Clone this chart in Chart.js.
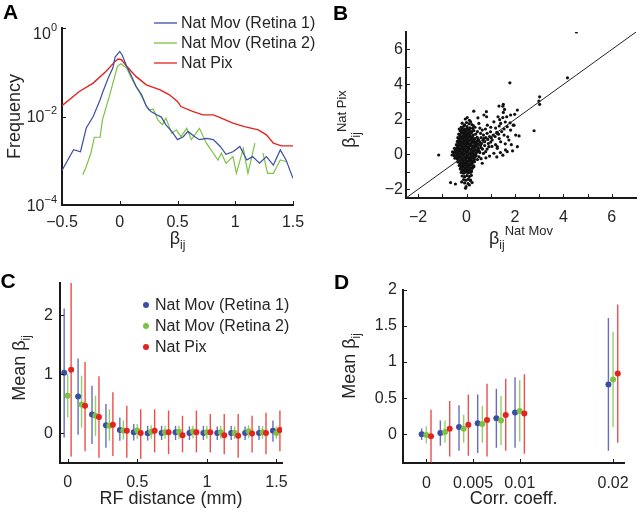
<!doctype html>
<html lang="en">
<head>
  <meta charset="utf-8">
  <title>Coupling coefficients: natural movie vs natural pixel</title>
  <style>
    * { margin: 0; padding: 0; }
    body { background: #fff; }
    .figure { position: relative; width: 640px; height: 513px; }
    .figure canvas { position: absolute; left: 0; top: 0; }
  </style>
</head>
<body>
  <div class="figure">
    <canvas id="panelA" width="640" height="513"></canvas>
    <canvas id="panelB" width="640" height="513"></canvas>
    <canvas id="panelC" width="640" height="513"></canvas>
    <canvas id="panelD" width="640" height="513"></canvas>
  </div>
  <script src="https://cdn.jsdelivr.net/npm/chart.js/dist/chart.umd.min.js"></script>
  <script>
    // ---- panel A: distribution of beta_ij (log frequency)
    const betaBlueA = [-0.5, -0.4, -0.34, -0.29, -0.23, -0.17, -0.15, -0.1, -0.06, -0.04, 0, 0.02, 0.06, 0.1, 0.14, 0.19, 0.23, 0.27, 0.32, 0.36, 0.4, 0.45, 0.5, 0.55, 0.59, 0.65, 0.69, 0.75, 0.81, 0.87, 0.92, 0.98, 1.04, 1.1, 1.15, 1.21, 1.27, 1.33, 1.39, 1.44, 1.5];
    const freqBlueA = [6.0e-4, 1.77e-3, 1.6e-3, 5.5e-3, 1.0e-2, 2.4e-2, 3.4e-2, 7.4e-2, 0.124, 0.22, 0.296, 0.249, 0.136, 0.083, 0.048, 0.031, 0.0168, 0.013, 0.0109, 0.0097, 0.0065, 0.0046, 0.003, 0.0035, 0.0046, 0.0035, 0.003, 0.0032, 0.003, 0.0021, 0.0014, 0.0016, 0.0021, 0.00104, 0.00124, 0.00088, 0.00124, 0.0008, 0.00176, 0.00104, 0.0004];
    const betaGreenA = [-0.32, -0.29, -0.25, -0.22, -0.17, -0.15, -0.09, -0.02, 0.01, 0.06, 0.1, 0.16, 0.22, 0.25, 0.29, 0.33, 0.37, 0.4, 0.45, 0.49, 0.53, 0.58, 0.62, 0.69, 0.75, 0.81, 0.85, 0.88, 0.92, 0.98, 1.01, 1.07, 1.11, 1.17, 1.2, 1.24, 1.28, 1.33, 1.39, 1.44];
    const freqGreenA = [4.8e-4, 7.4e-4, 1.48e-3, 3.4e-3, 3.4e-3, 8.4e-3, 0.0284, 0.136, 0.156, 0.124, 0.074, 0.04, 0.02, 0.0142, 0.0147, 0.0084, 0.0065, 0.0092, 0.0042, 0.005, 0.0035, 0.0054, 0.003, 0.0054, 0.0025, 0.00148, 0.00104, 0.00148, 0.00088, 0.00124, 0.00052, 0.0019, 0.00052, 0.0025, null, 0.00148, 0.00052, 0.00052, 0.00104, 0.00096];
    const betaRedA = [-0.5, -0.35, -0.23, -0.12, -0.04, -0.015, 0.015, 0.06, 0.14, 0.23, 0.35, 0.43, 0.5, 0.53, 0.63, 0.72, 0.81, 0.88, 0.98, 1.08, 1.2, 1.27, 1.33, 1.4, 1.5];
    const freqRedA = [0.0175, 0.0368, 0.0569, 0.1044, 0.176, 0.199, 0.192, 0.136, 0.0805, 0.052, 0.04, 0.031, 0.0219, 0.0168, 0.013, 0.0109, 0.0109, 0.0092, 0.0071, 0.0059, 0.005, 0.00385, 0.0025, 0.00217, 0.00217];

    // ---- panel B: beta_ij Nat Mov (x) vs Nat Pix (y)
    const pairsB = [
      [4.54, 7.0], [4.17, 4.38], [1.79, 4.09], [3.02, 3.29], [2.99, 3.05], [3.02, 2.86], [2.79, 1.35], [-1.15, -0.04],
      [-0.66, -1.62], [-0.46, -1.7], [-0.04, -1.94], [-0.02, -1.85], [0.23, -1.62], [0.17, -1.47],
      [1.52, 2.86], [1.34, 2.76], [1.5, 2.75], [2.1, 2.53], [1.57, 2.57], [1.52, 2.4], [0.3, 2.47], [0.82, 2.44],
      [0.72, 2.25], [0.83, 2.15], [0.47, 2.09], [1.3, 2.15], [1.66, 2.15], [1.99, 2.29], [1.82, 2.25], [1.37, 1.98],
      [1.93, 1.67], [2.17, 1.05], [2.1, 0.44], [1.68, 0.15], [1.27, 0.44],
      [0.17, 1.86], [0.51, 1.77], [0.86, 1.67], [1.13, 1.86], [1.41, 1.77], [1.68, 1.58], [1.96, 1.67], [0.65, 1.39],
      [0.99, 1.29], [1.27, 1.2], [1.55, 1.1], [1.82, 1.39], [0.72, 0.91], [1.06, 0.82], [1.41, 0.72], [1.75, 0.82],
      [2.03, 1.1], [0.58, 0.53], [0.92, 0.44], [1.27, 0.34], [1.61, 0.25], [1.13, 0.06], [0.79, 0.15], [0.51, -0.14],
      [0.65, -0.51], [0.3, -0.71], [0.55, 0.7], [0.62, 0.62], [0.68, 0.8], [0.75, 0.72], [0.8, 0.95], [0.88, 0.85],
      [0.95, 1.02], [1.02, 0.95], [1.1, 1.1], [1.18, 1.02], [1.25, 1.25], [1.32, 1.15], [0.6, 0.95], [0.7, 1.1],
      [0.85, 1.2], [0.48, 0.85], [0.58, 1.2], [0.75, 0.5], [0.9, 0.62], [1.0, 0.7], [0.66, 0.3], [0.85, 0.3],
      [1.05, 0.45], [0.55, 0.1], [0.7, 0.05], [0.95, -0.1], [0.45, -0.3], [0.6, -0.25], [0.8, -0.2], [1.2, 0.55],
      [1.35, 0.9], [1.45, 1.3], [1.55, 1.45], [1.6, 0.6], [1.7, 1.0], [1.85, 0.55], [1.9, 0.2], [1.5, -0.05],
      [1.4, 0.1], [1.25, -0.15], [0.4, 0.7], [0.45, 1.3], [0.35, 1.55], [0.28, 1.65], [0.55, 1.5], [0.78, 1.45],
      [1.0, 1.55], [1.2, 1.5], [1.35, 1.62], [1.6, 1.85], [1.5, 2.1], [1.8, 1.8],
      [-0.05, 2.02], [0.12, 1.95], [0.03, 2.1],
      [-0.18, 1.78], [0.0, 1.82], [0.1, 1.75], [0.22, 1.7], [-0.08, 1.68],
      [-0.22, 1.55], [-0.12, 1.6], [0.02, 1.58], [0.14, 1.52], [0.25, 1.48], [-0.3, 1.45],
      [-0.17, 1.45], [-0.07, 1.43], [0.03, 1.47], [0.11, 1.44],
      [-0.26, 1.35], [-0.16, 1.38], [-0.06, 1.32], [0.04, 1.4], [0.12, 1.34], [0.22, 1.3], [0.3, 1.36],
      [-0.21, 1.25], [-0.11, 1.23], [-0.01, 1.27], [0.09, 1.24], [0.19, 1.26],
      [-0.32, 1.15], [-0.22, 1.2], [-0.12, 1.12], [-0.02, 1.18], [0.08, 1.14], [0.18, 1.2], [0.28, 1.1], [0.38, 1.16],
      [-0.27, 1.05], [-0.17, 1.03], [-0.07, 1.07], [0.03, 1.04], [0.13, 1.06], [0.23, 1.02],
      [-0.36, 0.95], [-0.26, 0.98], [-0.16, 0.92], [-0.06, 0.97], [0.04, 0.93], [0.14, 0.99], [0.24, 0.94], [0.34, 0.9], [0.44, 0.97],
      [-0.31, 0.85], [-0.21, 0.87], [-0.11, 0.83], [-0.01, 0.86], [0.09, 0.84], [0.19, 0.88], [0.29, 0.82],
      [-0.38, 0.74], [-0.28, 0.78], [-0.18, 0.72], [-0.08, 0.77], [0.02, 0.73], [0.12, 0.79], [0.22, 0.74], [0.32, 0.7], [0.42, 0.76], [0.5, 0.8],
      [-0.33, 0.65], [-0.23, 0.63], [-0.13, 0.67], [-0.03, 0.64], [0.07, 0.66], [0.17, 0.62], [0.27, 0.68], [0.37, 0.64],
      [-0.42, 0.55], [-0.32, 0.58], [-0.22, 0.52], [-0.12, 0.57], [-0.02, 0.53], [0.08, 0.58], [0.18, 0.54], [0.28, 0.5], [0.38, 0.56], [0.48, 0.6], [0.56, 0.52],
      [-0.35, 0.45], [-0.25, 0.47], [-0.15, 0.43], [-0.05, 0.46], [0.05, 0.44], [0.15, 0.48], [0.25, 0.42], [0.35, 0.46], [0.45, 0.44],
      [-0.5, 0.34], [-0.4, 0.38], [-0.3, 0.32], [-0.2, 0.37], [-0.1, 0.33], [0.0, 0.38], [0.1, 0.34], [0.2, 0.3], [0.3, 0.36], [0.4, 0.4], [0.5, 0.33], [0.6, 0.38],
      [-0.45, 0.25], [-0.35, 0.23], [-0.25, 0.27], [-0.15, 0.24], [-0.05, 0.26], [0.05, 0.22], [0.15, 0.28], [0.25, 0.24], [0.35, 0.26], [0.45, 0.22],
      [-0.58, 0.14], [-0.48, 0.18], [-0.38, 0.12], [-0.28, 0.17], [-0.18, 0.13], [-0.08, 0.18], [0.02, 0.14], [0.12, 0.1], [0.22, 0.16], [0.32, 0.2], [0.42, 0.12], [0.52, 0.18],
      [-0.52, 0.05], [-0.42, 0.07], [-0.32, 0.03], [-0.22, 0.06], [-0.12, 0.04], [-0.02, 0.08], [0.08, 0.05], [0.18, 0.03], [0.28, 0.07], [0.38, 0.04],
      [-0.6, -0.04], [-0.5, -0.08], [-0.4, -0.02], [-0.3, -0.07], [-0.2, -0.03], [-0.1, -0.08], [0.0, -0.04], [0.1, 0.0], [0.2, -0.06], [0.3, -0.02], [0.4, -0.08],
      [-0.45, -0.15], [-0.35, -0.13], [-0.25, -0.17], [-0.15, -0.14], [-0.05, -0.16], [0.05, -0.12], [0.15, -0.18], [0.25, -0.14], [0.35, -0.16],
      [-0.48, -0.22], [-0.38, -0.27], [-0.28, -0.23], [-0.18, -0.28], [-0.08, -0.24], [0.02, -0.2], [0.12, -0.26], [0.22, -0.22], [0.32, -0.28],
      [-0.33, -0.35], [-0.23, -0.33], [-0.13, -0.37], [-0.03, -0.34], [0.07, -0.36], [0.17, -0.32], [0.27, -0.37],
      [-0.36, -0.44], [-0.26, -0.48], [-0.16, -0.42], [-0.06, -0.47], [0.04, -0.43], [0.14, -0.4], [0.24, -0.46], [0.33, -0.42],
      [-0.27, -0.55], [-0.17, -0.53], [-0.07, -0.57], [0.03, -0.54], [0.13, -0.56], [0.23, -0.52],
      [-0.3, -0.64], [-0.2, -0.68], [-0.1, -0.62], [0.0, -0.67], [0.1, -0.63], [0.2, -0.6], [0.3, -0.66],
      [-0.23, -0.75], [-0.13, -0.73], [-0.03, -0.77], [0.07, -0.74], [0.17, -0.76], [0.27, -0.72],
      [-0.26, -0.84], [-0.16, -0.88], [-0.06, -0.82], [0.04, -0.87], [0.14, -0.83], [0.24, -0.8],
      [-0.19, -0.95], [-0.09, -0.93], [0.01, -0.97], [0.11, -0.94], [0.21, -0.96],
      [-0.22, -1.04], [-0.12, -1.08], [-0.02, -1.02], [0.08, -1.07], [0.18, -1.03],
      [-0.18, -1.24], [-0.08, -1.28], [0.02, -1.22], [0.12, -1.27], [0.2, -1.2],
      [-0.12, -1.44], [-0.02, -1.48], [0.08, -1.42], [0.16, -1.5],
      [-0.08, -1.64], [0.06, -1.68], [-0.2, -1.58], [0.12, -1.75]
    ];
    const unityB = [-2.5, 7];

    // ---- panel C: mean beta_ij vs RF distance (mm), bars = spread
    const rfDist = [0, 0.1, 0.2, 0.3, 0.4, 0.5, 0.6, 0.7, 0.8, 0.9, 1.0, 1.1, 1.2, 1.3, 1.4, 1.5];
    const meanBlueC = [1.03, 0.625, 0.32, 0.14, 0.06, 0.02, 0.005, 0.01, 0.02, 0.01, 0.01, 0.01, 0.01, 0.01, 0.01, 0.045];
    const loBlueC = [-0.07, -0.02, -0.18, -0.24, -0.125, -0.12, -0.12, -0.11, -0.11, -0.11, -0.11, -0.11, -0.11, -0.11, -0.11, -0.14];
    const hiBlueC = [2.12, 1.27, 0.81, 0.5, 0.27, 0.16, 0.13, 0.13, 0.13, 0.12, 0.13, 0.12, 0.13, 0.12, 0.13, 0.22];
    const meanGreenC = [0.64, 0.49, 0.3, 0.13, 0.05, 0.05, 0.03, 0.02, 0.03, 0.035, 0.02, 0.02, 0.01, 0.04, 0.02, 0.01];
    const loGreenC = [0.27, 0.1, -0.04, -0.125, -0.1, -0.09, -0.09, -0.09, -0.09, -0.08, -0.09, -0.09, -0.09, -0.08, -0.09, -0.09];
    const hiGreenC = [1.01, 0.98, 0.64, 0.41, 0.22, 0.16, 0.14, 0.13, 0.13, 0.13, 0.13, 0.13, 0.12, 0.14, 0.13, 0.12];
    const meanRedC = [1.08, 0.47, 0.28, 0.15, 0.045, 0.01, 0.045, 0.02, -0.03, 0.02, 0.02, -0.03, -0.04, 0.0, 0.01, 0.06];
    const loRedC = [-0.39, -0.3, -0.41, -0.38, -0.41, -0.43, -0.32, -0.35, -0.32, -0.32, -0.32, -0.35, -0.41, -0.32, -0.35, -0.3];
    const hiRedC = [2.55, 1.21, 0.97, 0.7, 0.47, 0.41, 0.41, 0.39, 0.3, 0.39, 0.33, 0.33, 0.33, 0.3, 0.35, 0.39];

    // ---- panel D: mean beta_ij vs correlation coefficient
    const corrCoef = [0, 0.002, 0.004, 0.006, 0.008, 0.01, 0.02];
    const meanBlueD = [0, 0.015, 0.1, 0.15, 0.22, 0.3, 0.69];
    const loBlueD = [-0.08, -0.16, -0.23, -0.26, -0.19, -0.19, -0.23];
    const hiBlueD = [0.08, 0.19, 0.4, 0.55, 0.63, 0.79, 1.61];
    const meanGreenD = [-0.01, 0.03, 0.075, 0.14, 0.19, 0.32, 0.76];
    const loGreenD = [-0.13, -0.12, -0.12, -0.12, -0.15, -0.1, 0.1];
    const hiGreenD = [0.11, 0.19, 0.27, 0.39, 0.53, 0.75, 1.42];
    const meanRedD = [-0.03, 0.075, 0.13, 0.195, 0.265, 0.285, 0.84];
    const loRedD = [-0.45, -0.31, -0.3, -0.31, -0.23, -0.27, -0.12];
    const hiRedD = [0.34, 0.46, 0.55, 0.7, 0.77, 0.83, 1.8];

    // ---- tick values
    const ticksAx = [-0.5, 0, 0.5, 1, 1.5];
    const ticksAy = [1e-4, 1e-2, 1];
    const ticksB = [-2, -1, 0, 1, 2, 3, 4, 5, 6];
    const ticksCx = [0, 0.5, 1, 1.5];
    const ticksCy = [0, 1, 2];
    const ticksDx = [0, 0.005, 0.01, 0.02];
    const ticksDy = [0, 0.5, 1, 1.5, 2];

    const seriesNames = ['Nat Mov (Retina 1)', 'Nat Mov (Retina 2)', 'Nat Pix'];

    // ---- style
    const FONT = '"Liberation Sans", Arial, Helvetica, sans-serif';
    const INK = '#262626';
    const BLUE = '#3b4ea6', GREEN = '#7dc242', RED = '#e3231f';
    const BLUE_BAR = 'rgba(59,78,166,0.8)', GREEN_BAR = 'rgba(125,194,66,0.8)', RED_BAR = 'rgba(227,35,31,0.8)';
    const W = 640, H = 513, YW = 40, XH = 30;

    const fmt = v => String(v).replace('-', '\u2212');

    function axis(min, max, values, opts = {}) {
      return {
        type: opts.type || 'linear', min, max, offset: false,
        afterBuildTicks: s => { s.ticks = values.map(v => ({ value: v })); },
        afterFit: s => { if (s.isHorizontal()) s.height = XH; else s.width = YW; },
        ticks: {
          display: opts.labels !== false, autoSkip: false, maxRotation: 0,
          padding: opts.pad || 8, color: INK, font: { family: FONT, size: 16 },
          callback: opts.fmt || (v => fmt(v))
        },
        grid: { display: false, drawTicks: false, offset: false },
        border: { color: '#1a1a1a', width: 2 }
      };
    }

    // MATLAB style tick marks pointing into the plot
    const inwardTicks = {
      id: 'inwardTicks',
      afterDatasetsDraw(chart) {
        const { ctx, chartArea: a } = chart;
        const sx = chart.scales.x, sy = chart.scales.y;
        ctx.save();
        ctx.strokeStyle = '#1a1a1a';
        ctx.lineWidth = 1;
        ctx.beginPath();
        sx.ticks.forEach(t => {
          const p = Math.round(sx.getPixelForValue(t.value)) + 0.5;
          ctx.moveTo(p, a.bottom); ctx.lineTo(p, a.bottom - 4);
        });
        sy.ticks.forEach(t => {
          const p = Math.round(sy.getPixelForValue(t.value)) + 0.5;
          ctx.moveTo(a.left, p); ctx.lineTo(a.left + 4, p);
        });
        ctx.stroke();
        ctx.restore();
      }
    };

    function txt(ctx, s, x, y, size, o = {}) {
      ctx.font = (o.bold ? 'bold ' : '') + size + 'px ' + FONT;
      ctx.fillStyle = o.color || INK;
      ctx.textAlign = o.align || 'left';
      ctx.textBaseline = o.base || 'alphabetic';
      ctx.fillText(s, x, y);
    }

    // text made of pieces with sub/superscripts
    function rich(ctx, pieces, x, y, align) {
      let total = 0;
      pieces.forEach(p => { ctx.font = p.size + 'px ' + FONT; p.w = ctx.measureText(p.text).width; total += p.w; });
      let cx = align === 'center' ? x - total / 2 : x;
      ctx.fillStyle = INK; ctx.textAlign = 'left'; ctx.textBaseline = 'alphabetic';
      pieces.forEach(p => {
        ctx.font = p.size + 'px ' + FONT;
        ctx.fillText(p.text, cx, y + (p.dy || 0));
        cx += p.w;
      });
    }

    function betaLabel(sup, prefix) {
      const out = [];
      if (prefix) out.push({ text: prefix, size: 18 });
      out.push({ text: '\u03b2', size: 18 }, { text: 'ij', size: 12, dy: 5 });
      if (sup) out.push({ text: sup, size: 13, dy: -9 });
      return out;
    }

    function rotated(ctx, x, y, fn) {
      ctx.save(); ctx.translate(x, y); ctx.rotate(-Math.PI / 2); fn(); ctx.restore();
    }

    function makeChart(id, box, datasets, scales, deco) {
      return new Chart(document.getElementById(id), {
        type: 'scatter',
        data: { datasets },
        options: {
          responsive: false, animation: false, events: [],
          layout: { padding: { left: box.l - YW, right: W - box.r, top: box.t, bottom: H - box.b - XH } },
          plugins: { legend: { display: false }, tooltip: { enabled: false } },
          scales
        },
        plugins: [inwardTicks, { id: 'deco' + id, afterDraw: chart => { chart.ctx.save(); deco(chart, chart.ctx, chart.chartArea); chart.ctx.restore(); } }]
      });
    }

    const line = (xs, ys, color, w) => ({
      data: xs.map((x, i) => ({ x, y: ys[i] })), showLine: true, spanGaps: false,
      borderColor: color, borderWidth: w, pointRadius: 0, clip: 0
    });

    // dots at means plus floating bars for the spread
    function errSeries(xs, off, mean, lo, hi, color, barColor, order) {
      return [
        {
          data: xs.map((x, i) => ({ x: x + off, y: mean[i] })),
          pointRadius: 3, pointBackgroundColor: color, pointBorderWidth: 0, order, clip: 0
        },
        {
          type: 'bar', grouped: false, barThickness: 1.4, inflateAmount: 0, order: order + 3, clip: 0,
          data: xs.map((x, i) => ({ x: x + off, y: [lo[i], hi[i]] })),
          backgroundColor: barColor, borderWidth: 0
        }
      ];
    }

    // ---------- A
    makeChart('panelA', { l: 62, r: 293, t: 28, b: 205 },
      [line(betaBlueA, freqBlueA, BLUE, 1.2), line(betaGreenA, freqGreenA, GREEN, 1.2), line(betaRedA, freqRedA, RED, 1.4)],
      {
        x: axis(-0.5, 1.5, ticksAx, { pad: 8 }),
        y: axis(1e-4, 1, ticksAy, { type: 'logarithmic', labels: false })
      },
      (chart, ctx, a) => {
        const sy = chart.scales.y;
        txt(ctx, 'A', 3, 18.5, 21, { bold: true, color: '#000' });
        ticksAy.forEach(v => {
          const y = sy.getPixelForValue(v) + (v === 1 ? 5 : 0);
          const e = fmt(Math.round(Math.log10(v)));
          ctx.font = '11px ' + FONT;
          const ew = ctx.measureText(e).width;
          txt(ctx, e, a.left - 5 - ew, y - 2.5, 11);
          txt(ctx, '10', a.left - 5 - ew, y + 5.5, 16, { align: 'right' });
        });
        rich(ctx, betaLabel(), (a.left + a.right) / 2, 244, 'center');
        rotated(ctx, 20, (a.top + a.bottom) / 2, () => txt(ctx, 'Frequency', 0, 0, 18, { align: 'center' }));
        const rows = [23, 43, 63], cols = [BLUE, GREEN, RED];
        rows.forEach((y, i) => {
          ctx.strokeStyle = cols[i]; ctx.lineWidth = 1.3;
          ctx.beginPath(); ctx.moveTo(154, y); ctx.lineTo(177, y); ctx.stroke();
          txt(ctx, seriesNames[i], 181, y + 1, 16, { base: 'middle' });
        });
      });

    // ---------- B
    makeChart('panelB', { l: 406, r: 636, t: 32, b: 198 },
      [
        {
          data: unityB.map(v => ({ x: v, y: v })), showLine: true,
          borderColor: '#222', borderWidth: 1, pointRadius: 0
        },
        {
          data: pairsB.map(p => ({ x: p[0], y: p[1] })),
          pointRadius: 1.6, pointBackgroundColor: '#111', pointBorderWidth: 0
        }
      ],
      {
        x: axis(-2.5, 7, ticksB, { pad: 10, fmt: v => (v % 2 === 0 ? fmt(v) : '') }),
        y: axis(-2.5, 7, ticksB, { pad: 3, fmt: v => (v % 2 === 0 ? fmt(v) : '') })
      },
      (chart, ctx, a) => {
        txt(ctx, 'B', 333, 20, 21, { bold: true, color: '#000' });
        rich(ctx, betaLabel('Nat Mov'), (a.left + a.right) / 2, 244, 'center');
        rotated(ctx, 355, 119, () => rich(ctx, betaLabel('Nat Pix'), 0, 0, 'center'));
      });

    // ---------- C
    makeChart('panelC', { l: 60, r: 282, t: 283, b: 463 },
      [
        ...errSeries(rfDist, 0.025, meanRedC, loRedC, hiRedC, RED, RED_BAR, 0),
        ...errSeries(rfDist, 0, meanGreenC, loGreenC, hiGreenC, GREEN, GREEN_BAR, 1),
        ...errSeries(rfDist, -0.025, meanBlueC, loBlueC, hiBlueC, BLUE, BLUE_BAR, 2)
      ],
      {
        x: axis(-0.055, 1.54, ticksCx, { pad: 10 }),
        y: axis(-0.5, 2.55, ticksCy, { pad: 7 })
      },
      (chart, ctx, a) => {
        txt(ctx, 'C', 0.5, 288, 21, { bold: true, color: '#000' });
        txt(ctx, 'RF distance (mm)', (a.left + a.right) / 2, 504, 18, { align: 'center' });
        rotated(ctx, 24.6, 368, () => rich(ctx, betaLabel(null, 'Mean '), 0, 0, 'center'));
        const rows = [305, 326, 347], cols = [BLUE, GREEN, RED];
        rows.forEach((y, i) => {
          ctx.fillStyle = cols[i];
          ctx.beginPath(); ctx.arc(146, y, 3, 0, Math.PI * 2); ctx.fill();
          txt(ctx, seriesNames[i], 155, y + 1, 16, { base: 'middle' });
        });
      });

    // ---------- D
    makeChart('panelD', { l: 403, r: 633, t: 290, b: 463 },
      [
        ...errSeries(corrCoef, 0.0005, meanRedD, loRedD, hiRedD, RED, RED_BAR, 0),
        ...errSeries(corrCoef, 0, meanGreenD, loGreenD, hiGreenD, GREEN, GREEN_BAR, 1),
        ...errSeries(corrCoef, -0.0005, meanBlueD, loBlueD, hiBlueD, BLUE, BLUE_BAR, 2)
      ],
      {
        x: axis(-0.0025, 0.0212, ticksDx, { pad: 11 }),
        y: axis(-0.4, 2, ticksDy, { pad: 6 })
      },
      (chart, ctx, a) => {
        txt(ctx, 'D', 334, 289, 21, { bold: true, color: '#000' });
        txt(ctx, 'Corr. coeff.', (a.left + a.right) / 2, 504, 18, { align: 'center' });
        rotated(ctx, 354.6, 366, () => rich(ctx, betaLabel(null, 'Mean '), 0, 0, 'center'));
      });
  </script>
</body>
</html>
